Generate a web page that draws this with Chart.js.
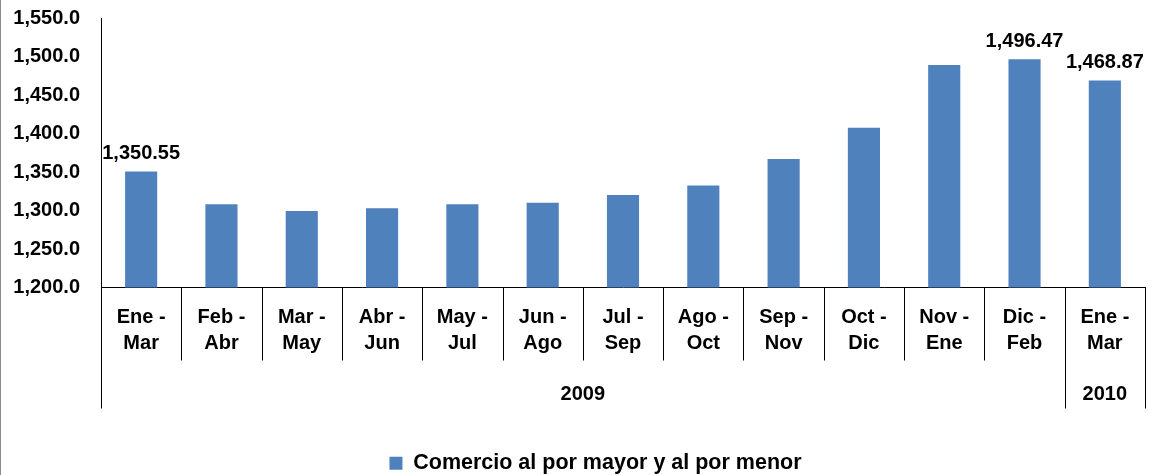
<!doctype html>
<html lang="es">
<head>
    <meta charset="utf-8">
    <title>Comercio al por mayor y al por menor</title>
    <script src="https://cdn.jsdelivr.net/npm/chart.js@4.4.1/dist/chart.umd.min.js"></script>
    <style>
        body { margin: 0; background: #fff; }
        #caja { width: 1154px; height: 475px; position: relative; }
    </style>
</head>
<body>
    <div id="caja"><canvas id="chart"></canvas></div>

    <script>
        // datos
        var periodos = [
            ['Ene -', 'Mar'], ['Feb -', 'Abr'], ['Mar -', 'May'], ['Abr -', 'Jun'],
            ['May -', 'Jul'], ['Jun -', 'Ago'], ['Jul -', 'Sep'], ['Ago -', 'Oct'],
            ['Sep -', 'Nov'], ['Oct -', 'Dic'], ['Nov -', 'Ene'], ['Dic -', 'Feb'],
            ['Ene -', 'Mar']
        ];
        var anios = ['2009', '2009', '2009', '2009', '2009', '2009', '2009',
                     '2009', '2009', '2009', '2009', '2009', '2010'];
        var valores = [1350.55, 1308.0, 1299.5, 1303.0, 1308.0, 1310.0, 1320.0,
                       1332.5, 1367.0, 1407.5, 1489.0, 1496.47, 1468.87];
        var conEtiqueta = [0, 11, 12];
        var serie = 'Comercio al por mayor y al por menor';

        Chart.defaults.font.family = '"Liberation Sans", Arial, sans-serif';
        Chart.defaults.color = '#000';

        function formato(v, dec) {
            return v.toLocaleString('en-US', { minimumFractionDigits: dec, maximumFractionDigits: dec });
        }

        // lineas separadoras, fila de años, etiquetas de valor y marco izquierdo
        var extras = {
            id: 'extras',
            afterLayout: function (chart) {
                // la leyenda va algo a la derecha del centro del lienzo
                if (chart.legend) {
                    chart.legend.left += 46;
                }
            },
            afterDraw: function (chart) {
                var ctx = chart.ctx;
                var x = chart.scales.x;
                var area = chart.chartArea;
                var n = periodos.length;
                var paso = x.getPixelForValue(1) - x.getPixelForValue(0);
                ctx.save();
                ctx.strokeStyle = '#000';
                ctx.lineWidth = 1;
                for (var i = 0; i <= n; i++) {
                    var px = Math.round(x.getPixelForValue(i) - paso / 2) + 0.5;
                    var cambio = i === 0 || i === n || anios[i] !== anios[i - 1];
                    ctx.beginPath();
                    ctx.moveTo(px, area.bottom);
                    ctx.lineTo(px, cambio ? area.bottom + 121 : area.bottom + 73);
                    ctx.stroke();
                }
                // años
                ctx.font = 'bold 20px "Liberation Sans", Arial, sans-serif';
                ctx.fillStyle = '#000';
                ctx.textAlign = 'center';
                ctx.textBaseline = 'middle';
                var ini = 0;
                for (var j = 1; j <= n; j++) {
                    if (j === n || anios[j] !== anios[ini]) {
                        var cx = (x.getPixelForValue(ini) + x.getPixelForValue(j - 1)) / 2;
                        ctx.fillText(anios[ini], cx, area.bottom + 107);
                        ini = j;
                    }
                }
                // etiquetas de valor
                var meta = chart.getDatasetMeta(0);
                ctx.textBaseline = 'bottom';
                conEtiqueta.forEach(function (k) {
                    var b = meta.data[k];
                    ctx.fillText(formato(valores[k], 2), b.x, b.y - 8);
                });
                // marco izquierdo
                ctx.strokeStyle = '#8c8c8c';
                ctx.beginPath();
                ctx.moveTo(0.5, 0);
                ctx.lineTo(0.5, chart.height);
                ctx.stroke();
                ctx.restore();
            }
        };

        new Chart(document.getElementById('chart').getContext('2d'), {
            type: 'bar',
            data: {
                labels: periodos,
                datasets: [{
                    label: serie,
                    data: valores,
                    backgroundColor: '#4F81BD',
                    barPercentage: 0.4,
                    categoryPercentage: 1.0
                }]
            },
            options: {
                responsive: true,
                maintainAspectRatio: false,
                animation: false,
                layout: { padding: { top: 18, right: 9, left: 0, bottom: -9 } },
                scales: {
                    y: {
                        min: 1200,
                        max: 1550,
                        ticks: {
                            stepSize: 50,
                            padding: 21,
                            font: { size: 20, weight: 'bold' },
                            callback: function (v) { return formato(v, 1); }
                        },
                        grid: { color: 'rgba(0,0,0,0)', drawTicks: false },
                        border: { display: true, color: '#000', width: 1 },
                        afterFit: function (s) { s.width = 101; s.paddingTop = 0; s.paddingBottom = 0; }
                    },
                    x: {
                        offset: true,
                        ticks: {
                            autoSkip: false,
                            maxRotation: 0,
                            padding: 17,
                            font: { size: 20, weight: 'bold', lineHeight: 1.3 }
                        },
                        grid: { color: 'rgba(0,0,0,0)', drawTicks: false, offset: true },
                        border: { display: true, color: '#000', width: 1 },
                        afterFit: function (s) { s.height = 165; }
                    }
                },
                plugins: {
                    legend: {
                        position: 'bottom',
                        labels: {
                            boxWidth: 13,
                            boxHeight: 13,
                            padding: 0,
                            font: { size: 21.5, weight: 'bold' }
                        }
                    },
                    tooltip: { enabled: false }
                }
            },
            plugins: [extras]
        });
    </script>
</body>
</html>
